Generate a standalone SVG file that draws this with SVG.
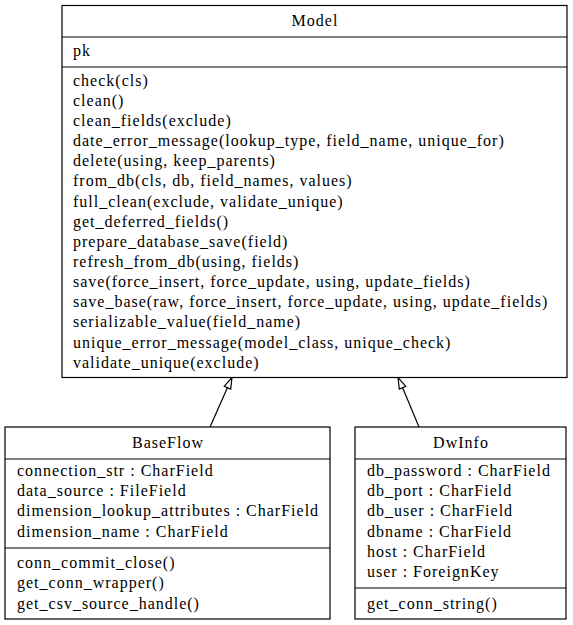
<svg xmlns="http://www.w3.org/2000/svg" width="573" height="625" viewBox="0 0 573 625">
<style>
text{font-family:"Liberation Serif","Times New Roman",serif;font-size:16px;letter-spacing:1px;fill:#000}
.t{text-anchor:middle}
.box{fill:#fff;stroke:#000;stroke-width:1.2}
.sep{stroke:#000;stroke-width:1.2}
.edge{stroke:#000;stroke-width:1.2;fill:none}
.head{fill:#fff;stroke:#000;stroke-width:1.2}
</style>
<rect width="573" height="625" fill="#fff"/>
<g id="connectors">
<line class="edge" x1="210" y1="427" x2="227.5" y2="387.5"/>
<polygon class="head" points="232,377.5 224.3,386.2 230.7,389 "/>
<line class="edge" x1="419" y1="427" x2="402.5" y2="387.5"/>
<polygon class="head" points="398,377.5 399.3,389 405.7,386.2 "/>
</g>
<g id="Model">
<rect class="box" x="62" y="5.5" width="505" height="372"/>
<line class="sep" x1="62" y1="37" x2="567" y2="37"/>
<line class="sep" x1="62" y1="67" x2="567" y2="67"/>
<text class="t" x="315" y="26">Model</text>
<text x="73" y="56">pk</text>
<text x="73" y="86">check(cls)</text>
<text x="73" y="106">clean()</text>
<text x="73" y="126">clean_fields(exclude)</text>
<text x="73" y="146">date_error_message(lookup_type, field_name, unique_for)</text>
<text x="73" y="166">delete(using, keep_parents)</text>
<text x="73" y="186">from_db(cls, db, field_names, values)</text>
<text x="73" y="207">full_clean(exclude, validate_unique)</text>
<text x="73" y="227">get_deferred_fields()</text>
<text x="73" y="247">prepare_database_save(field)</text>
<text x="73" y="267">refresh_from_db(using, fields)</text>
<text x="73" y="287">save(force_insert, force_update, using, update_fields)</text>
<text x="73" y="307">save_base(raw, force_insert, force_update, using, update_fields)</text>
<text x="73" y="327">serializable_value(field_name)</text>
<text x="73" y="348">unique_error_message(model_class, unique_check)</text>
<text x="73" y="368">validate_unique(exclude)</text>
</g>
<g id="BaseFlow">
<rect class="box" x="5" y="427" width="325" height="192"/>
<line class="sep" x1="5" y1="459" x2="330" y2="459"/>
<line class="sep" x1="5" y1="548" x2="330" y2="548"/>
<text class="t" x="168" y="448">BaseFlow</text>
<text x="17" y="476">connection_str : CharField</text>
<text x="17" y="496">data_source : FileField</text>
<text x="17" y="516">dimension_lookup_attributes : CharField</text>
<text x="17" y="537">dimension_name : CharField</text>
<text x="17" y="568">conn_commit_close()</text>
<text x="17" y="588">get_conn_wrapper()</text>
<text x="17" y="609">get_csv_source_handle()</text>
</g>
<g id="DwInfo">
<rect class="box" x="355" y="427" width="211" height="192"/>
<line class="sep" x1="355" y1="459" x2="566" y2="459"/>
<line class="sep" x1="355" y1="588" x2="566" y2="588"/>
<text class="t" x="461" y="448">DwInfo</text>
<text x="367" y="476">db_password : CharField</text>
<text x="367" y="496">db_port : CharField</text>
<text x="367" y="516">db_user : CharField</text>
<text x="367" y="537">dbname : CharField</text>
<text x="367" y="557">host : CharField</text>
<text x="367" y="577">user : ForeignKey</text>
<text x="367" y="609">get_conn_string()</text>
</g>
</svg>
